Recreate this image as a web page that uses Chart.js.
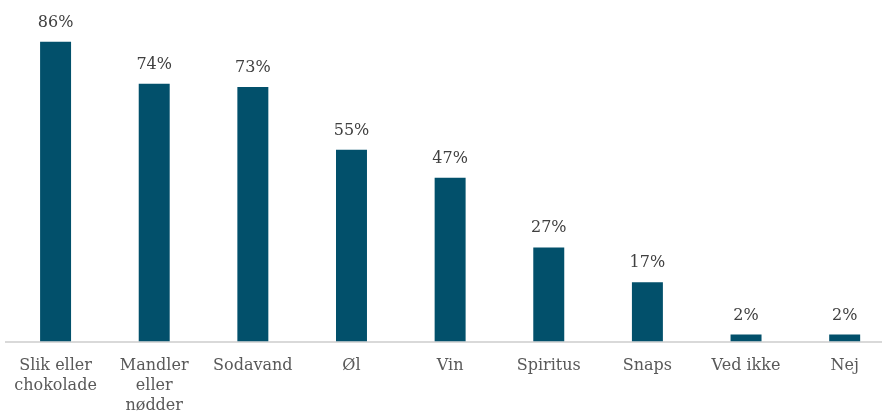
<!DOCTYPE html>
<html>
<head>
<meta charset="utf-8">
<script src="https://cdn.jsdelivr.net/npm/chart.js@4.4.1/dist/chart.umd.min.js"></script>
<style>
  html, body { margin: 0; padding: 0; background: #fff; overflow: hidden; }
  #wrap { position: absolute; left: 0; top: 0; width: 894px; height: 414px; }
</style>
</head>
<body>
<div id="wrap"><canvas id="grafica"></canvas></div>
<script>
  // Data
  const kategorier = [
    ['Slik eller', 'chokolade'],
    ['Mandler', 'eller', 'nødder'],
    'Sodavand',
    'Øl',
    'Vin',
    'Spiritus',
    'Snaps',
    'Ved ikke',
    'Nej'
  ];
  const andele = [86, 74, 73, 55, 47, 27, 17, 2, 2];

  const skrift = "'DejaVu Serif', 'Liberation Serif', serif";

  // labels over søjlerne
  const procentLabels = {
    id: 'procentLabels',
    afterDatasetsDraw(chart) {
      const ctx = chart.ctx;
      const meta = chart.getDatasetMeta(0);
      ctx.save();
      ctx.font = '16px ' + skrift;
      ctx.fillStyle = '#404040';
      ctx.textAlign = 'center';
      ctx.textBaseline = 'alphabetic';
      meta.data.forEach((bar, i) => {
        ctx.fillText(andele[i] + '%', bar.x, bar.y - 15);
      });
      ctx.restore();
    }
  };

  new Chart(document.getElementById('grafica'), {
    type: 'bar',
    data: {
      labels: kategorier,
      datasets: [{
        data: andele,
        backgroundColor: '#02506b',
        borderWidth: 0,
        barPercentage: 0.314,
        categoryPercentage: 1
      }]
    },
    options: {
      responsive: true,
      maintainAspectRatio: false,
      animation: false,
      layout: { padding: { left: 5, right: 0, top: 0, bottom: 0 } },
      plugins: {
        legend: { display: false },
        tooltip: { enabled: false }
      },
      scales: {
        x: {
          grid: { display: false, drawTicks: false },
          border: { display: true, color: '#d9d9d9', width: 2 },
          ticks: {
            color: '#595959',
            font: { family: skrift, size: 16, lineHeight: 1.25 },
            padding: 14,
            maxRotation: 0,
            autoSkip: false
          },
          afterFit(scale) { scale.height = 72.5; }
        },
        y: {
          display: false,
          min: 0,
          max: 98
        }
      }
    },
    plugins: [procentLabels]
  });
</script>
</body>
</html>
